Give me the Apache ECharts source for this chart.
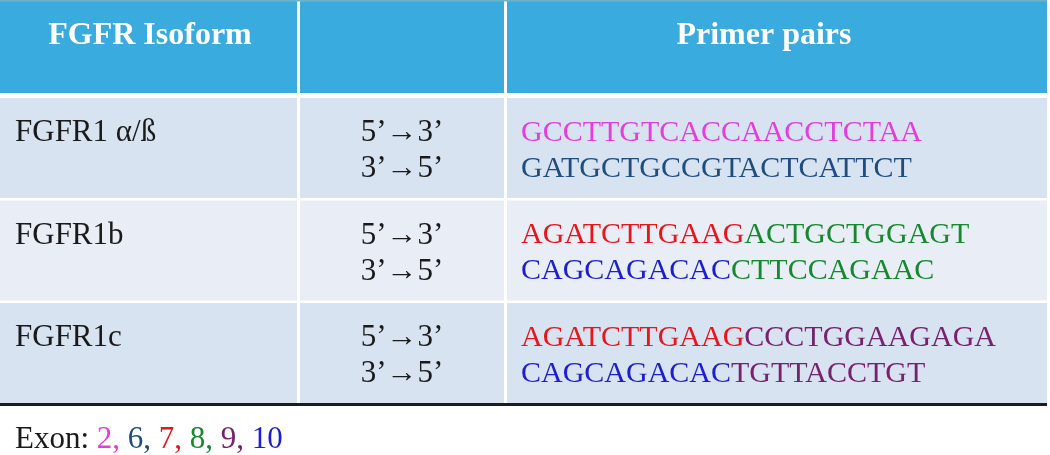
<!DOCTYPE html>
<html><head><meta charset="utf-8">
<script src="https://cdn.jsdelivr.net/npm/echarts@6/dist/echarts.min.js"></script>
<style>html,body{margin:0;padding:0;background:#fff}#c{width:1050px;height:455px}</style>
</head><body><div id="c"></div>
<script>
// ---- data ----
const headers = ['FGFR Isoform', '', 'Primer pairs'];
const isoforms = ['FGFR1 α/ß', 'FGFR1b', 'FGFR1c'];
const directions = ['5’→3’', '3’→5’'];
// primer segments: [sequence, exon]
const forwardPrimers = [
  [['GCCTTGTCACCAACCTCTAA', 2]],
  [['AGATCTTGAAG', 7], ['ACTGCTGGAGT', 8]],
  [['AGATCTTGAAG', 7], ['CCCTGGAAGAGA', 9]]
];
const reversePrimers = [
  [['GATGCTGCCGTACTCATTCT', 6]],
  [['CAGCAGACAC', 10], ['CTTCCAGAAC', 8]],
  [['CAGCAGACAC', 10], ['TGTTACCTGT', 9]]
];
const exonLabel = 'Exon: ';
const exons = [2, 6, 7, 8, 9, 10];

// ---- styles / layout ----
const exonColors = {2: '#e43ddc', 6: '#1f4d80', 7: '#e6161d', 8: '#16892f', 9: '#78216c', 10: '#1d1fcc'};
const FAMILY = '"Liberation Serif", "Times New Roman", serif';
const FONT = '30px ' + FAMILY;
const FONT_L = '31px ' + FAMILY;
const BOLD = 'bold 32px ' + FAMILY;
const TABLE_W = 1047;
const colCells = [[0, 297], [300, 504], [507, 1047]];
const rich = {};
Object.keys(exonColors).forEach(k => { rich['e' + k] = {fill: exonColors[k], font: FONT}; });
const richL = {blk: {fill: '#1a1a1a', font: FONT_L}};
Object.keys(exonColors).forEach(k => { richL['e' + k] = {fill: exonColors[k], font: FONT_L}; });

function segText(segs) {
  return segs.map(s => '{e' + s[1] + '|' + s[0] + '}').join('');
}
const rows = isoforms.map((name, i) => [i]);

function renderRow(params, api) {
  const i = api.value(0);
  const top = api.coord([0, i])[1];
  const bottom = api.coord([0, i + 1])[1] - 2.5;
  const fill = i % 2 === 0 ? '#d7e3f1' : '#e9eef6';
  const children = [];
  colCells.forEach(c => {
    const x0 = api.coord([c[0], i])[0];
    const x1 = api.coord([c[1], i])[0];
    children.push({type: 'rect', shape: {x: x0, y: top, width: x1 - x0, height: bottom - top}, style: {fill: fill}});
  });
  const y1 = top + 35, y2 = top + 71;
  children.push({type: 'text', style: {text: isoforms[i], x: api.coord([15, i])[0], y: y1, font: FONT_L, fill: '#1a1a1a', align: 'left', verticalAlign: 'middle'}});
  const cx = api.coord([(colCells[1][0] + colCells[1][1]) / 2, i])[0];
  children.push({type: 'text', style: {text: directions[0], x: cx, y: y1, font: FONT_L, fill: '#1a1a1a', align: 'center', verticalAlign: 'middle'}});
  children.push({type: 'text', style: {text: directions[1], x: cx, y: y2, font: FONT_L, fill: '#1a1a1a', align: 'center', verticalAlign: 'middle'}});
  const px = api.coord([521, i])[0];
  children.push({type: 'text', style: {text: segText(forwardPrimers[i]), rich: rich, x: px, y: y1, font: FONT, align: 'left', verticalAlign: 'middle'}});
  children.push({type: 'text', style: {text: segText(reversePrimers[i]), rich: rich, x: px, y: y2, font: FONT, align: 'left', verticalAlign: 'middle'}});
  return {type: 'group', children: children};
}

let exonText = '{blk|' + exonLabel + '}';
exons.forEach((e, k) => {
  exonText += '{e' + e + '|' + e + (k < exons.length - 1 ? ', ' : '') + '}';
});

const headerGraphics = [];
colCells.forEach((c, k) => {
  headerGraphics.push({type: 'rect', shape: {x: c[0], y: 0, width: c[1] - c[0], height: 93}, style: {fill: '#3aabde'}});
});
headerGraphics.push({type: 'rect', shape: {x: 0, y: 0, width: TABLE_W, height: 1.5}, style: {fill: '#6cb3c9'}});
headerGraphics.push({type: 'text', style: {text: headers[0], x: 150, y: 36, font: BOLD, fill: '#ffffff', align: 'center', verticalAlign: 'middle'}});
headerGraphics.push({type: 'text', style: {text: headers[2], x: 764, y: 36, font: BOLD, fill: '#ffffff', align: 'center', verticalAlign: 'middle'}});
headerGraphics.push({type: 'rect', shape: {x: 0, y: 403, width: TABLE_W, height: 3}, style: {fill: '#1c1c1c'}});
headerGraphics.push({type: 'text', style: {text: exonText, rich: richL, x: 15, y: 440, font: FONT_L, fill: '#1a1a1a', align: 'left', verticalAlign: 'middle'}});

const chart = echarts.init(document.getElementById('c'), null, {renderer: 'canvas'});
chart.setOption({
  animation: false,
  backgroundColor: '#ffffff',
  grid: {left: 0, top: 98, width: TABLE_W, height: 307.5},
  xAxis: {type: 'value', min: 0, max: TABLE_W, show: false},
  yAxis: {type: 'value', min: 0, max: 3, inverse: true, show: false},
  graphic: headerGraphics,
  series: [{
    type: 'custom',
    renderItem: renderRow,
    data: rows,
    clip: false,
    z: 1
  }]
});
</script>
</body></html>
